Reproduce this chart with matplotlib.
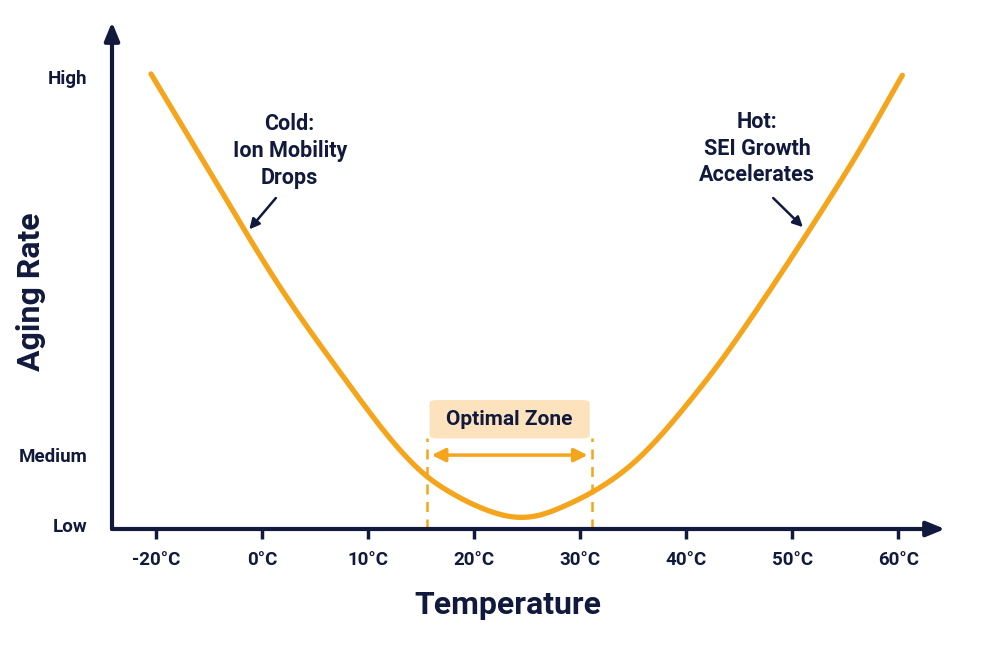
import matplotlib
matplotlib.use("Agg")
import matplotlib.pyplot as plt
from matplotlib.patches import FancyBboxPatch
import numpy as np

# ---- data (x in tick-position units, y on a 0-100 aging-rate scale) ----
tick_labels = ["-20°C", "0°C", "10°C", "20°C", "30°C", "40°C", "50°C", "60°C"]
tick_pos = [0, 1, 2, 3, 4, 5, 6, 7]
level_labels = ["Low", "Medium", "High"]
level_values = [0, 15.6, 100]

curve_x = [-0.047, 0.481, 1.104, 1.670, 2.302, 2.774, 3.368, 3.877, 4.500,
           5.132, 5.726, 6.519, 7.038]
curve_y = [100.7, 79.9, 55.5, 36.2, 16.7, 7.3, 1.8, 4.5, 13.8,
           30.6, 50.2, 79.2, 100.4]
optimal_range = [2.56, 4.11]

NAVY = "#111a3c"
ORANGE = "#F5A51C"
PEACH = "#FCE3BD"
FONT = ["Roboto", "DejaVu Sans"]
plt.rcParams["font.family"] = FONT

W, H = 985, 651
fig = plt.figure(figsize=(W / 100, H / 100), dpi=100)
fig.patch.set_facecolor("white")
ax_l, ax_r, ax_t, ax_b = 112, 945, 22, 529
ax = fig.add_axes([ax_l / W, 1 - ax_b / H, (ax_r - ax_l) / W, (ax_b - ax_t) / H])
ax.set_xlim(-0.415, 7.44)
ax.set_ylim(-0.9, 112.3)
for s in ax.spines.values():
    s.set_visible(False)


def catmull(xp, yp, n=40):
    """Uniform Catmull-Rom smoothing through the read points (rendering only)."""
    xp = np.asarray(xp, float); yp = np.asarray(yp, float)
    px = np.concatenate([[2 * xp[0] - xp[1]], xp, [2 * xp[-1] - xp[-2]]])
    py = np.concatenate([[2 * yp[0] - yp[1]], yp, [2 * yp[-1] - yp[-2]]])
    ox, oy = [], []
    u = np.linspace(0, 1, n, endpoint=False)
    for i in range(1, len(px) - 2):
        for arr, out in ((px, ox), (py, oy)):
            p0, p1, p2, p3 = arr[i - 1], arr[i], arr[i + 1], arr[i + 2]
            out.extend(0.5 * ((2 * p1) + (-p0 + p2) * u + (2 * p0 - 5 * p1 + 4 * p2 - p3) * u ** 2
                              + (-p0 + 3 * p1 - 3 * p2 + p3) * u ** 3))
    ox.append(xp[-1]); oy.append(yp[-1])
    return np.array(ox), np.array(oy)


cx, cy = catmull(curve_x, curve_y)
ax.plot(cx, cy, color=ORANGE, lw=3.8, solid_capstyle="round", zorder=3)

# axes with arrows
for tip in [(0, 1), (1, 0)]:
    ax.annotate("", xy=tip, xytext=(0, 0), xycoords="axes fraction",
                arrowprops=dict(arrowstyle="-|>,head_length=1.1,head_width=0.45", color=NAVY, lw=3,
                                shrinkA=0, shrinkB=0), zorder=5)

ax.set_xticks(tick_pos)
ax.set_xticklabels(tick_labels, fontsize=13.5, fontweight="bold", color=NAVY)
ax.tick_params(axis="x", length=7, width=2.5, color=NAVY, pad=9, direction="out")
ax.set_yticks(level_values)
ax.set_yticklabels(level_labels, fontsize=13.5, fontweight="bold", color=NAVY)
ax.tick_params(axis="y", length=0, pad=17.5)

fig.text(508 / W, 1 - 605 / H, "Temperature", ha="center", va="center",
         fontsize=23, fontweight="bold", color=NAVY)
fig.text(31 / W, 1 - 292 / H, "Aging Rate", ha="center", va="center", rotation=90,
         fontsize=23, fontweight="bold", color=NAVY)

# annotations
ax.text(1.26, 83.5, "Cold:\nIon Mobility\nDrops", ha="center", va="center",
        fontsize=15.5, fontweight="bold", color=NAVY, linespacing=1.3)
ax.annotate("", xy=(0.88, 66.0), xytext=(1.13, 73.0),
            arrowprops=dict(arrowstyle="-|>,head_length=0.6,head_width=0.3", color=NAVY, lw=1.8,
                            shrinkA=0, shrinkB=0))
ax.text(5.67, 84.0, "Hot:\nSEI Growth\nAccelerates", ha="center", va="center",
        fontsize=15.5, fontweight="bold", color=NAVY, linespacing=1.25)
ax.annotate("", xy=(6.1, 66.5), xytext=(5.82, 73.0),
            arrowprops=dict(arrowstyle="-|>,head_length=0.6,head_width=0.3", color=NAVY, lw=1.8,
                            shrinkA=0, shrinkB=0))

# optimal zone
for xv in optimal_range:
    ax.plot([xv, xv], [-0.9, 19.5], color=ORANGE, lw=1.8, ls=(0, (4, 3)), zorder=2)
ax.annotate("", xy=(optimal_range[1] - 0.04, 15.6), xytext=(optimal_range[0] + 0.04, 15.6),
            arrowprops=dict(arrowstyle="<|-|>,head_length=0.8,head_width=0.4", color=ORANGE, lw=2.5,
                            shrinkA=0, shrinkB=0))
mid = (optimal_range[0] + optimal_range[1]) / 2
box = FancyBboxPatch((optimal_range[0] + 0.02, 19.3), optimal_range[1] - optimal_range[0] - 0.04, 8.6,
                     boxstyle="round,pad=0,rounding_size=0.08", fc=PEACH, ec="none",
                     mutation_aspect=8, zorder=1)
ax.add_patch(box)
ax.text(mid, 23.6, "Optimal Zone", ha="center", va="center", fontsize=15,
        fontweight="bold", color=NAVY, zorder=4)

fig.savefig("out.png", dpi=100, facecolor="white")
